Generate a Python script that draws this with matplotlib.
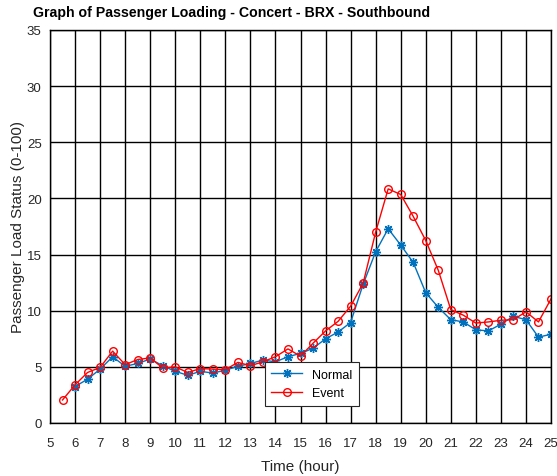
import matplotlib
matplotlib.use("Agg")
import matplotlib.pyplot as plt

plt.rcParams['font.family'] = ['Liberation Sans', 'DejaVu Sans']

hours_normal = [6, 6.5, 7, 7.5, 8, 8.5, 9, 9.5, 10, 10.5, 11, 11.5, 12, 12.5, 13, 13.5,
                14, 14.5, 15, 15.5, 16, 16.5, 17, 17.5, 18, 18.5, 19, 19.5, 20, 20.5,
                21, 21.5, 22, 22.5, 23, 23.5, 24, 24.5, 25]
normal = [3.25, 3.9, 4.8, 5.9, 5.05, 5.3, 5.7, 5.1, 4.6, 4.25, 4.6, 4.45, 4.7, 5.05, 5.3, 5.6,
          5.45, 5.9, 6.2, 6.65, 7.5, 8.1, 8.95, 12.35, 15.25, 17.3, 15.85, 14.3, 11.6, 10.3,
          9.2, 9.0, 8.3, 8.2, 8.8, 9.5, 9.2, 7.65, 7.9]

hours_event = [5.5, 6, 6.5, 7, 7.5, 8, 8.5, 9, 9.5, 10, 10.5, 11, 11.5, 12, 12.5, 13, 13.5,
               14, 14.5, 15, 15.5, 16, 16.5, 17, 17.5, 18, 18.5, 19, 19.5, 20, 20.5,
               21, 21.5, 22, 22.5, 23, 23.5, 24, 24.5, 25]
event = [2.05, 3.4, 4.5, 4.95, 6.4, 5.2, 5.65, 5.8, 4.9, 5.0, 4.5, 4.85, 4.8, 4.75, 5.4, 5.1, 5.45,
         5.9, 6.6, 5.95, 7.1, 8.2, 9.05, 10.4, 12.45, 17.0, 20.85, 20.35, 18.4, 16.25, 13.6,
         10.1, 9.6, 8.9, 9.0, 9.15, 9.2, 9.9, 9.0, 11.05]

xticks = list(range(5, 26))
yticks = list(range(0, 36, 5))

fig = plt.figure(figsize=(5.57, 4.77), dpi=100)
ax = fig.add_axes([50/557, 1-424/477, 501/557, 393/477])

ax.plot(hours_normal, normal, color='#0072BD', marker=(8, 2, 0), markersize=6.5,
        markeredgewidth=1, linewidth=1, label='Normal')
ax.plot(hours_event, event, color='red', marker='o', markersize=5.5, markerfacecolor='none',
        linewidth=1, label='Event')

ax.set_xlim(5, 25)
ax.set_ylim(0, 35)
ax.set_xticks(xticks)
ax.set_yticks(yticks)
ax.grid(True, color='black', linewidth=1, linestyle='-')
ax.set_axisbelow(True)
ax.tick_params(labelsize=9.5, direction='in', length=0, labelcolor='#262626')
ax.tick_params(axis='x', pad=10)
ax.tick_params(axis='y', pad=6)
for s in ax.spines.values():
    s.set_color('black')
    s.set_linewidth(1)

ax.set_xlabel('Time (hour)', fontsize=11, color='#262626', labelpad=7)
ax.set_ylabel('Passenger Load Status (0-100)', fontsize=11, color='#262626', labelpad=1)

fig.text(33/557, 1-13/477, 'Graph of Passenger Loading - Concert - BRX - Southbound',
         fontsize=10.2, fontweight='bold', ha='left', va='center')

leg = ax.legend(loc='lower left', bbox_to_anchor=(0.416, 0.028), fontsize=9,
                fancybox=False, framealpha=1, edgecolor='#262626', handlelength=2.5,
                borderpad=0.5, labelspacing=0.55)
leg.get_frame().set_linewidth(0.8)

fig.savefig('out.png', dpi=100)
